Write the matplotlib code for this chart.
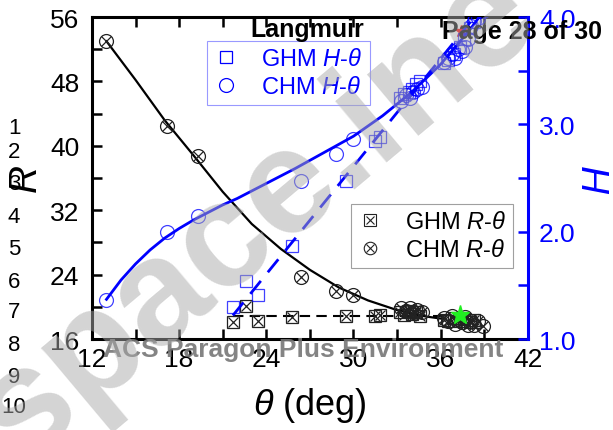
import matplotlib
matplotlib.use("Agg")
import matplotlib.pyplot as plt
from matplotlib.lines import Line2D
from matplotlib.ticker import MultipleLocator, FormatStrFormatter

plt.rcParams['font.family'] = ['Liberation Sans', 'DejaVu Sans']
plt.rcParams['mathtext.fontset'] = 'custom'
plt.rcParams['mathtext.it'] = 'Liberation Sans:italic'
plt.rcParams['mathtext.rm'] = 'Liberation Sans'

# CHM points (same theta for R and H)
theta_chm = [13.0, 17.2, 19.3, 26.4, 28.8, 30.0,
             33.3, 33.6, 33.9, 34.1, 34.4, 34.7,
             36.2, 36.5, 36.8, 37.0, 37.2, 37.5, 37.7, 37.9, 38.1, 38.3, 38.6, 38.9]
R_chm = [53.0, 42.5, 38.7, 23.7, 22.0, 21.5,
         19.8, 19.5, 19.9, 19.4, 19.6, 19.3,
         18.6, 18.2, 18.9, 17.9, 18.5, 18.1, 18.7, 17.7, 18.3, 17.8, 18.2, 17.6]
H_chm = [1.36, 2.00, 2.15, 2.47, 2.72, 2.86,
         3.22, 3.27, 3.25, 3.30, 3.33, 3.35,
         3.58, 3.62, 3.66, 3.62, 3.70, 3.68, 3.72, 3.80, 3.92, 3.96, 3.99, 4.06]

# GHM points
theta_ghm = [21.7, 22.6, 23.4, 25.8, 29.5, 31.5, 31.8,
             33.2, 33.5, 33.8, 34.0, 34.3, 34.6,
             36.2, 36.5, 36.9, 37.3, 37.6, 38.0, 38.3]
R_ghm = [18.1, 20.1, 18.2, 18.7, 18.9, 18.9, 19.0,
         19.3, 19.0, 19.5, 19.1, 19.4, 18.9,
         18.4, 18.2, 18.6, 18.3, 18.5, 18.1, 18.4]
H_ghm = [1.30, 1.54, 1.41, 1.87, 2.47, 2.85, 2.88,
         3.25, 3.28, 3.30, 3.33, 3.38, 3.40,
         3.57, 3.60, 3.66, 3.72, 3.80, 3.90, 3.95]

# fitted curves
fit_R_chm_x = [13.0, 15.0, 17.0, 19.0, 21.0, 23.0, 25.0, 27.0, 29.0, 31.0, 33.0, 35.0, 36.2]
fit_R_chm_y = [53.0, 48.2, 43.2, 38.8, 34.3, 30.3, 27.2, 24.6, 22.4, 20.8, 19.6, 18.8, 18.5]
fit_R_ghm_x = [21.7, 36.3]
fit_R_ghm_y = [18.9, 18.9]
fit_H_chm_x = [13.0, 14.0, 15.0, 16.0, 17.0, 18.0, 19.0, 20.0, 21.0, 22.0, 24.0, 26.0, 28.0,
               30.0, 32.0, 34.0, 36.0, 38.0, 38.6]
fit_H_chm_y = [1.37, 1.55, 1.70, 1.83, 1.94, 2.03, 2.11, 2.18, 2.25, 2.31, 2.45, 2.59, 2.74,
               2.89, 3.08, 3.30, 3.56, 3.88, 3.99]
fit_H_ghm_x = [21.7, 38.2]
fit_H_ghm_y = [1.22, 3.98]

star_green = (37.3, 19.0)
star_red = (37.4, 3.87)

blue = '#0000ff'

fig = plt.figure(figsize=(6.13, 4.31), dpi=100)
ax = fig.add_axes([0.150, 0.211, 0.711, 0.747])
ax2 = ax.twinx()

# R - theta (left axis)
ax.plot(fit_R_chm_x, fit_R_chm_y, color='black', lw=1.6, zorder=2)
ax.plot(fit_R_ghm_x, fit_R_ghm_y, color='black', lw=1.5, ls=(0, (5, 3)), zorder=2)
for m in ['o', 'x']:
    ax.plot(theta_chm, R_chm, ls='none', marker=m, ms=10 if m == 'o' else 7,
            mfc='none', mec='#222222', mew=0.9, zorder=3)
for m in ['s', 'x']:
    ax.plot(theta_ghm, R_ghm, ls='none', marker=m, ms=9 if m == 's' else 7,
            mfc='none', mec='#222222', mew=0.9, zorder=3)
ax.plot(*star_green, marker='*', ms=14, color='#22ee22', mec='#22ee22', ls='none', zorder=5)

# H - theta (right axis)
ax2.plot(fit_H_chm_x, fit_H_chm_y, color=blue, lw=2.0, zorder=2)
ax2.plot(fit_H_ghm_x, fit_H_ghm_y, color=blue, lw=2.0, ls=(0, (6, 4)), zorder=2)
ax2.plot(theta_chm, H_chm, ls='none', marker='o', ms=10, mfc='none', mec=blue, mew=0.9, alpha=0.75)
ax2.plot(theta_ghm, H_ghm, ls='none', marker='s', ms=9, mfc='none', mec=blue, mew=0.9, alpha=0.75)
ax2.plot(*star_red, marker='*', ms=9, color='red', ls='none', zorder=1)

ax.set_xlim(12, 42)
ax.set_ylim(16, 56)
ax2.set_ylim(1.0, 4.0)

ax.xaxis.set_major_locator(MultipleLocator(6))
ax.xaxis.set_minor_locator(MultipleLocator(3))
ax.yaxis.set_major_locator(MultipleLocator(8))
ax.yaxis.set_minor_locator(MultipleLocator(4))
ax2.yaxis.set_major_locator(MultipleLocator(1.0))
ax2.yaxis.set_minor_locator(MultipleLocator(0.5))
ax2.yaxis.set_major_formatter(FormatStrFormatter('%.1f'))

ax.tick_params(axis='both', which='both', direction='in', width=1.8, length=7, labelsize=19)
ax.tick_params(axis='x', which='both', top=True, pad=6)
ax.tick_params(axis='y', which='both', right=False, pad=9)
ax2.tick_params(axis='y', which='both', direction='in', width=1.8, length=7, labelsize=19,
                colors=blue, pad=8)
for s in ['left', 'bottom', 'top']:
    ax.spines[s].set_linewidth(2.2)
ax2.spines['right'].set_color(blue)
ax2.spines['right'].set_linewidth(2.2)
for s in ['left', 'bottom', 'top']:
    ax2.spines[s].set_visible(False)
ax.spines['right'].set_visible(False)

ax.set_xlabel(r'$\theta$ (deg)', fontsize=26, labelpad=10)
ax.set_ylabel(r'$R$', fontsize=28, labelpad=4)
ax2.set_ylabel(r'$H$', fontsize=28, color=blue, rotation=-90, labelpad=24)

# legends
h_sq = Line2D([], [], ls='none', marker='s', ms=9, mfc='none', mec=blue, mew=0.9)
h_ci = Line2D([], [], ls='none', marker='o', ms=10, mfc='none', mec=blue, mew=0.9)
leg1 = ax2.legend([h_sq, h_ci], [r'GHM $H$-$\theta$', r'CHM $H$-$\theta$'],
                  loc='upper left', bbox_to_anchor=(0.264, 0.925), fontsize=17,
                  labelcolor=blue, frameon=True, fancybox=False, edgecolor='#8080ff',
                  handlelength=1.0, handletextpad=1.0, borderpad=0.3, labelspacing=0.25,
                  borderaxespad=0)
leg1.get_frame().set_linewidth(0.8)

k_sq = (Line2D([], [], ls='none', marker='s', ms=8, mfc='none', mec='#222222', mew=0.8),
        Line2D([], [], ls='none', marker='x', ms=6, mec='#222222', mew=0.8))
k_ci = (Line2D([], [], ls='none', marker='o', ms=9, mfc='none', mec='#222222', mew=0.8),
        Line2D([], [], ls='none', marker='x', ms=6, mec='#222222', mew=0.8))
leg2 = ax.legend([k_sq, k_ci], [r'GHM $R$-$\theta$', r'CHM $R$-$\theta$'],
                 loc='upper left', bbox_to_anchor=(0.594, 0.419), fontsize=17,
                 frameon=True, fancybox=False, edgecolor='#888888',
                 handlelength=1.0, handletextpad=1.0, borderpad=0.3, labelspacing=0.25,
                 borderaxespad=0)
leg2.get_frame().set_linewidth(0.8)

# page overlay text
fig.text(307 / 613, 1 - 30 / 431, 'Langmuir', fontsize=18, weight='bold', ha='center', va='center')
fig.text(522 / 613, 1 - 32 / 431, 'Page 28 of 30', fontsize=18, weight='bold', ha='center', va='center')
fig.text(303 / 613, 1 - 350 / 431, 'ACS Paragon Plus Environment', fontsize=19, weight='bold',
         color='#777777', ha='center', va='center', alpha=0.9)
line_y = [128, 153, 185, 218, 250, 282, 313, 346, 378, 408]
for i, y in enumerate(line_y):
    fig.text(14 / 613, 1 - y / 431, str(i + 1), fontsize=16, ha='center', va='center')

fig.text(0.42, 0.50, 'space.ine', fontsize=108, weight='bold', color='#aaaaaa', alpha=0.5,
         rotation=40, ha='center', va='center')

fig.savefig('out.png', dpi=100)
